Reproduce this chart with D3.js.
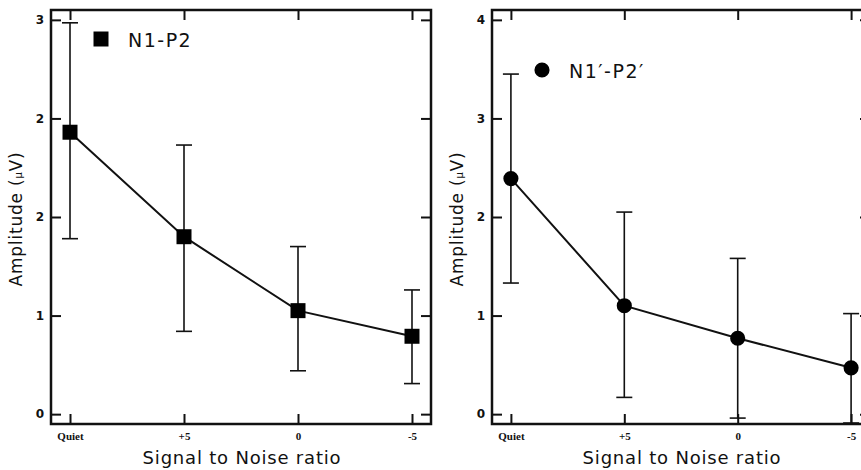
<!DOCTYPE html>
<html><head><meta charset="utf-8">
<script src="https://cdn.jsdelivr.net/npm/d3@7/dist/d3.min.js"></script>
<style>
html,body{margin:0;padding:0;background:#fff;overflow:hidden}
svg{display:block}
</style></head>
<body>
<svg id="chart" width="861" height="470"></svg>
<script>
// ---- data ----
const categories = ["Quiet", "+5", "0", "-5"];
const n1p2Mean  = [2.86, 1.80, 1.05, 0.79];
const n1p2Upper = [3.97, 2.73, 1.70, 1.26];
const n1p2Lower = [1.78, 0.84, 0.44, 0.31];
const n1pMean   = [2.39, 1.10, 0.77, 0.47];
const n1pUpper  = [3.45, 2.05, 1.58, 1.02];
const n1pLower  = [1.33, 0.17, -0.04, -0.09];
const yTickValues = [0, 1, 2, 3, 4];
const leftYTickLabels  = ["0", "1", "2", "2", "3"];
const rightYTickLabels = ["0", "1", "2", "3", "4"];
const legendLeft  = "N1-P2";
const legendRight = "N1\u2032-P2\u2032";
const xTitle = "Signal to Noise ratio";

const svg = d3.select("#chart");
const H = { top: 10, bottom: 424 };

function panel(cfg) {
  const g = svg.append("g");
  const x = d3.scalePoint().domain(categories).range([cfg.left, cfg.right]).padding(0.1667);
  const y = d3.scaleLinear().domain([-0.1, 4.1]).range([H.bottom, H.top]);

  // axes (inward ticks)
  const yl = d3.axisLeft(y).tickValues(yTickValues).tickSizeInner(-10).tickSizeOuter(0)
    .tickPadding(16).tickFormat((d, i) => cfg.yLabels[i]);
  const ga = g.append("g").attr("transform", `translate(${cfg.left},0)`).call(yl);
  ga.selectAll("text").attr("font-family", "DejaVu Sans, sans-serif").attr("font-size", 12)
    .attr("font-weight", "bold").attr("fill", "#111").attr("dx", 9);
  const yr = d3.axisRight(y).tickValues(yTickValues).tickSizeInner(-10).tickSizeOuter(0).tickFormat("");
  g.append("g").attr("transform", `translate(${cfg.right},0)`).call(yr);
  const xb = d3.axisBottom(x).tickSizeInner(-10).tickSizeOuter(0).tickPadding(15);
  const gb = g.append("g").attr("transform", `translate(0,${H.bottom})`).call(xb);
  gb.selectAll("text").attr("font-family", "Liberation Serif, serif").attr("font-size", 11)
    .attr("font-weight", "bold").attr("fill", "#111").attr("dy", "0.1em");
  const xt = d3.axisTop(x).tickSizeInner(-10).tickSizeOuter(0).tickFormat("");
  g.append("g").attr("transform", `translate(0,${H.top})`).call(xt);
  g.selectAll(".domain").remove();
  g.selectAll(".tick line").attr("stroke", "#111").attr("stroke-width", 2);

  // frame
  g.append("rect").attr("x", cfg.left).attr("y", H.top)
    .attr("width", cfg.right - cfg.left).attr("height", H.bottom - H.top)
    .attr("fill", "none").attr("stroke", "#111").attr("stroke-width", 2.5);

  // error bars
  const eb = g.append("g").attr("stroke", "#111").attr("stroke-width", 1.6);
  categories.forEach((c, i) => {
    const cx = x(c);
    eb.append("line").attr("x1", cx).attr("x2", cx).attr("y1", y(cfg.upper[i])).attr("y2", y(cfg.lower[i]));
    eb.append("line").attr("x1", cx - 8).attr("x2", cx + 8).attr("y1", y(cfg.upper[i])).attr("y2", y(cfg.upper[i]));
    eb.append("line").attr("x1", cx - 8).attr("x2", cx + 8).attr("y1", y(cfg.lower[i])).attr("y2", y(cfg.lower[i]));
  });

  // line
  const line = d3.line().x((d, i) => x(categories[i])).y(d => y(d));
  g.append("path").datum(cfg.mean).attr("d", line).attr("fill", "none")
    .attr("stroke", "#111").attr("stroke-width", 2);

  // markers
  const sym = d3.symbol().type(cfg.symbol).size(cfg.symSize);
  g.selectAll(".mk").data(cfg.mean).enter().append("path")
    .attr("transform", (d, i) => `translate(${x(categories[i])},${y(d)})`)
    .attr("d", sym).attr("fill", "#000");

  // legend
  g.append("path").attr("transform", `translate(${cfg.legX},${cfg.legY})`)
    .attr("d", sym).attr("fill", "#000");
  g.append("text").attr("x", cfg.legX + 27).attr("y", cfg.legY + 8)
    .attr("font-family", "DejaVu Sans, sans-serif").attr("font-size", 19)
    .attr("letter-spacing", 1.5).attr("fill", "#111").text(cfg.legend);

  // axis titles
  const yt = g.append("text").attr("transform", `translate(${cfg.left - 29},${219}) rotate(-90)`)
    .attr("text-anchor", "middle").attr("font-family", "DejaVu Sans, sans-serif")
    .attr("font-size", 17).attr("letter-spacing", 0.8).attr("fill", "#111");
  yt.append("tspan").text("Amplitude  (");
  yt.append("tspan").attr("font-size", 10).text("\u03bc");
  yt.append("tspan").text("V)");
  g.append("text").attr("x", (cfg.left + cfg.right) / 2 + 1).attr("y", 464)
    .attr("text-anchor", "middle").attr("font-family", "DejaVu Sans, sans-serif")
    .attr("font-size", 18).attr("letter-spacing", 0.8).attr("fill", "#111").text(xTitle);
}

panel({ left: 51, right: 431, mean: n1p2Mean, upper: n1p2Upper, lower: n1p2Lower,
  yLabels: leftYTickLabels, symbol: d3.symbolSquare, symSize: 225,
  legX: 101, legY: 39, legend: legendLeft });
panel({ left: 492, right: 870, mean: n1pMean, upper: n1pUpper, lower: n1pLower,
  yLabels: rightYTickLabels, symbol: d3.symbolCircle, symSize: 180,
  legX: 542, legY: 70, legend: legendRight });
</script>
</body></html>
